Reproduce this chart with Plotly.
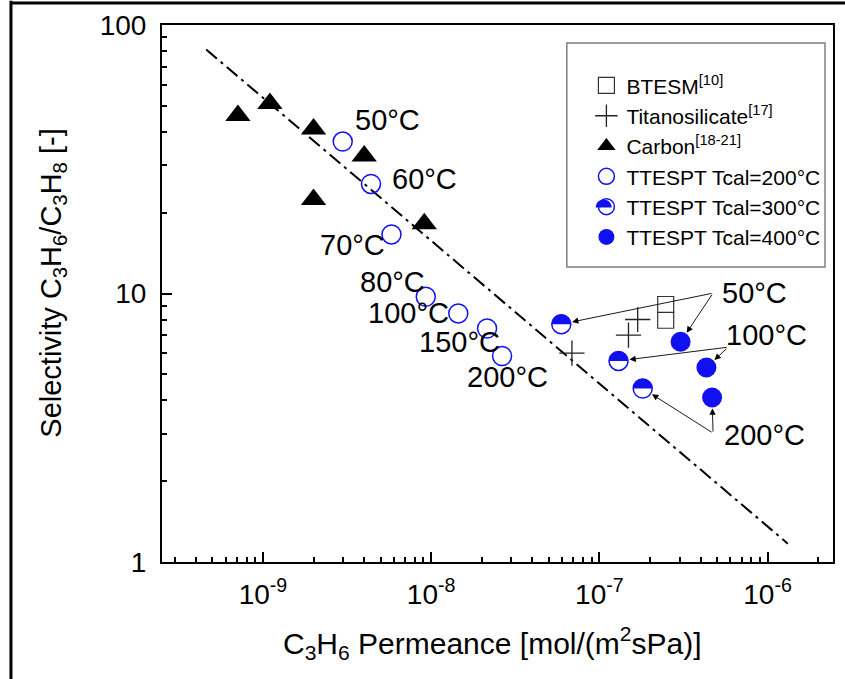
import numpy as np
import plotly.graph_objects as go

FONT = "Liberation Sans, Arial, Helvetica, sans-serif"
BLUE = "#1010f0"

# ---------------- data ----------------
btesm_x = [2.48e-7, 2.48e-7]
btesm_y = [9.1, 7.95]
titano_x = [1.69e-7, 1.49e-7, 6.87e-8]
titano_y = [8.0, 7.0, 6.0]
carbon_x = [7.1e-10, 1.1e-9, 2.0e-9, 4.0e-9, 2.0e-9, 9.1e-9]
carbon_y = [46, 51, 41, 32.5, 22.4, 18.2]
t200_temps = ["50°C", "60°C", "70°C", "80°C", "100°C", "150°C", "200°C"]
t200_x = [2.98e-9, 4.39e-9, 5.81e-9, 9.29e-9, 1.45e-8, 2.15e-8, 2.64e-8]
t200_y = [36.8, 25.6, 16.6, 9.72, 8.43, 7.41, 5.85]
t300_x = [5.94e-8, 1.30e-7, 1.81e-7]
t300_y = [7.69, 5.61, 4.43]
t400_x = [3.04e-7, 4.33e-7, 4.68e-7]
t400_y = [6.61, 5.30, 4.10]
bound_x = [4.6e-10, 1.32e-6]
bound_y = [81, 1.17]
right_temps = ["50°C", "100°C", "200°C"]

x_ticks = [1e-9, 1e-8, 1e-7, 1e-6]
x_ticktext = ["10<sup>-9</sup>", "10<sup>-8</sup>", "10<sup>-7</sup>", "10<sup>-6</sup>"]
y_ticks = [1, 10, 100]
y_ticktext = ["1", "10", "100"]

# label positions (log10 units) for temperature annotations
t200_lab_x = [-8.258, -8.042, -8.466, -8.229, -8.137, -7.829, -7.544]
t200_lab_y = [1.646, 1.428, 1.179, 1.044, 0.929, 0.821, 0.690]
right_lab_x = [-6.075, -6.004, -6.021]
right_lab_y = [1.003, 0.845, 0.472]
# arrow tails (log10 units), one per temperature row
tail_x = [-6.324, -6.235, -6.324]
tail_y = [1.0015, 0.800, 0.480]

fig = go.Figure()

fig.add_trace(go.Scatter(x=bound_x, y=bound_y, mode="lines", showlegend=False,
                         line=dict(color="black", width=2, dash="14px,5px,3px,5px")))

fig.add_trace(go.Scatter(x=btesm_x, y=btesm_y, mode="markers", name="BTESM<sup>[10]</sup>",
                         marker=dict(symbol="square-open", size=16, color="#333333",
                                     line=dict(width=1.2, color="#333333"))))
fig.add_trace(go.Scatter(x=titano_x, y=titano_y, mode="markers", name="Titanosilicate<sup>[17]</sup>",
                         marker=dict(symbol="cross-thin-open", size=18, color="#222222",
                                     line=dict(width=1.3, color="#222222"))))
fig.add_trace(go.Scatter(x=carbon_x, y=carbon_y, mode="markers", name="Carbon<sup>[18-21]</sup>",
                         marker=dict(symbol="triangle-up", size=22, color="black")))
fig.add_trace(go.Scatter(x=t200_x, y=t200_y, mode="markers", name="TTESPT Tcal=200°C",
                         marker=dict(symbol="circle-open", size=19, color=BLUE,
                                     line=dict(width=1.5, color=BLUE))))
fig.add_trace(go.Scatter(x=t300_x, y=t300_y, mode="markers", name="TTESPT Tcal=300°C",
                         marker=dict(symbol="circle-open", size=19, color=BLUE,
                                     line=dict(width=1.5, color=BLUE))))
fig.add_trace(go.Scatter(x=t400_x, y=t400_y, mode="markers", name="TTESPT Tcal=400°C",
                         marker=dict(symbol="circle", size=20, color=BLUE,
                                     line=dict(width=0, color=BLUE))))


def half_path(r):
    k = 0.5523
    return (f"M {-r},0 C {-r},{k*r} {-k*r},{r} 0,{r} "
            f"C {k*r},{r} {r},{k*r} {r},0 Z")


shapes = []
for xv, yv in zip(t300_x, t300_y):
    shapes.append(dict(type="path", xref="x", yref="y", xsizemode="pixel", ysizemode="pixel",
                       xanchor=xv, yanchor=yv, path=half_path(9.6), fillcolor=BLUE,
                       line=dict(width=0), layer="above"))

LEG_SYM_X = 605
LEG_Y0 = 85
LEG_STEP = 30.6
# half fill of the legend symbol for Tcal=300 (5th legend entry)
shapes.append(dict(type="path", xref="paper", yref="paper", xsizemode="pixel", ysizemode="pixel",
                   xanchor=(LEG_SYM_X - 162) / 673, yanchor=(562 - (LEG_Y0 + 4 * LEG_STEP)) / 537,
                   path=half_path(8), fillcolor=BLUE, line=dict(width=0), layer="above"))

# outer frame lines
shapes.append(dict(type="line", xref="paper", yref="paper", x0=-0.2259, x1=1.02, y0=1.041, y1=1.041,
                   line=dict(color="black", width=3)))
shapes.append(dict(type="line", xref="paper", yref="paper", x0=-0.2251, x1=-0.2251, y0=1.045, y1=-0.25,
                   line=dict(color="black", width=3)))
# legend box
shapes.append(dict(type="rect", xref="paper", yref="paper", x0=0.6033, x1=0.9881, y0=0.5493, y1=0.9665,
                   line=dict(color="#7f7f7f", width=1.5), fillcolor="rgba(0,0,0,0)"))

annotations = []
for t, lx, ly in zip(t200_temps, t200_lab_x, t200_lab_y):
    annotations.append(dict(x=lx, y=ly, xref="x", yref="y", text=t, showarrow=False,
                            xanchor="center", yanchor="middle",
                            font=dict(family=FONT, size=29, color="black")))
for t, lx, ly in zip(right_temps, right_lab_x, right_lab_y):
    annotations.append(dict(x=lx, y=ly, xref="x", yref="y", text=t, showarrow=False,
                            xanchor="center", yanchor="middle",
                            font=dict(family=FONT, size=29, color="black")))
for i in range(3):
    for px, py in ((t300_x[i], t300_y[i]), (t400_x[i], t400_y[i])):
        annotations.append(dict(x=np.log10(px), y=np.log10(py), xref="x", yref="y",
                                ax=tail_x[i], ay=tail_y[i], axref="x", ayref="y",
                                text="", showarrow=True, arrowhead=2, arrowsize=1.4,
                                arrowwidth=0.9, arrowcolor="black", standoff=11))

annotations.append(dict(x=0.4926, y=-0.151, xref="paper", yref="paper", showarrow=False,
                        xanchor="center", yanchor="middle",
                        text="C<sub>3</sub>H<sub>6</sub> Permeance [mol/(m<sup>2</sup>sPa)]",
                        font=dict(family=FONT, size=30, color="black")))
annotations.append(dict(x=-0.163, y=0.5194, xref="paper", yref="paper", showarrow=False, textangle=-90,
                        xanchor="center", yanchor="middle",
                        text="Selectivity C<sub>3</sub>H<sub>6</sub>/C<sub>3</sub>H<sub>8</sub> [-]",
                        font=dict(family=FONT, size=29, color="black")))

x_minor = [m * 10.0 ** e for e in range(-10, -5) for m in range(2, 10)]
y_minor = [m * 10.0 ** e for e in range(0, 2) for m in range(2, 10)]

fig.update_layout(
    width=845, height=679,
    margin=dict(l=162, r=10, t=25, b=117),
    paper_bgcolor="white", plot_bgcolor="white",
    font=dict(family=FONT, color="black"),
    shapes=shapes, annotations=annotations,
    showlegend=True,
    legend=dict(x=0.6325, y=0.925, xanchor="left", yanchor="top", bgcolor="rgba(0,0,0,0)",
                borderwidth=0, font=dict(family=FONT, size=21, color="black"),
                tracegroupgap=0),
    xaxis=dict(type="log", range=[-9.600, -5.611], showgrid=False, zeroline=False,
               showline=True, linecolor="black", linewidth=2, mirror=True,
               ticks="inside", ticklen=10, tickwidth=1.5, tickcolor="black",
               tickmode="array", tickvals=x_ticks, ticktext=x_ticktext,
               tickfont=dict(family=FONT, size=28, color="black"), ticklabelstandoff=6,
               minor=dict(ticks="inside", ticklen=5, tickwidth=1.5, tickcolor="black",
                          tickmode="array", tickvals=x_minor, showgrid=False)),
    yaxis=dict(type="log", range=[0, 2], showgrid=False, zeroline=False,
               showline=True, linecolor="black", linewidth=2, mirror=True,
               ticks="inside", ticklen=10, tickwidth=1.5, tickcolor="black",
               tickmode="array", tickvals=y_ticks, ticktext=y_ticktext,
               tickfont=dict(family=FONT, size=28, color="black"), ticklabelstandoff=8,
               minor=dict(ticks="inside", ticklen=5, tickwidth=1.5, tickcolor="black",
                          tickmode="array", tickvals=y_minor, showgrid=False)),
)

fig.write_html("out.html")
